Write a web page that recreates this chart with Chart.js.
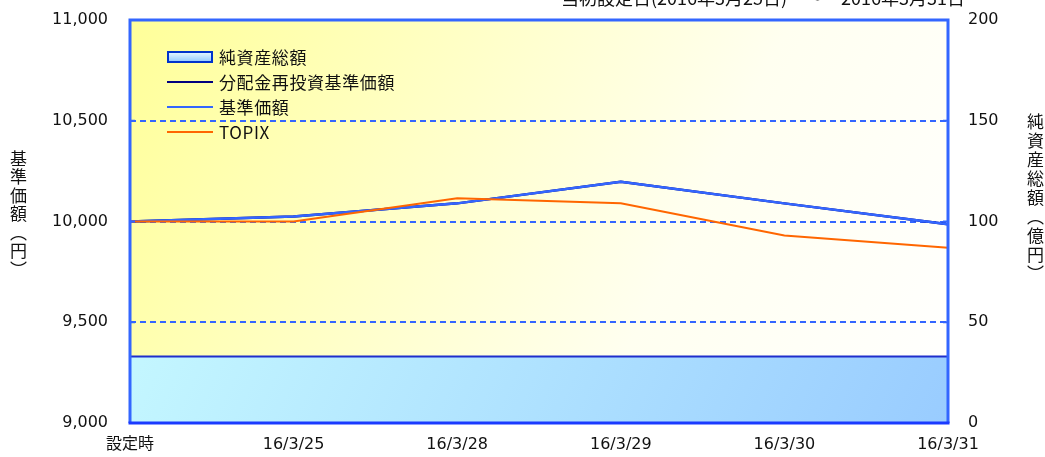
<!DOCTYPE html>
<html lang="ja">
<head>
<meta charset="utf-8">
<script src="https://cdn.jsdelivr.net/npm/chart.js@4"></script>
<style>
  body{ margin:0; background:#fff; font-family:"Noto Sans CJK JP","Noto Sans",sans-serif; color:#111; }
  #wrap{ position:relative; width:1045px; height:457px; overflow:hidden; }
  #ttl{ position:absolute; right:80px; top:-13px; font-size:18px; line-height:20px; white-space:nowrap; }
  .vt{ position:absolute; writing-mode:vertical-rl; font-size:17px; line-height:18px; }
  #legend{ position:absolute; left:167px; top:44px; font-size:17px; letter-spacing:0.6px; }
  #legend .it{ display:flex; align-items:center; height:25px; }
  #legend .sw{ width:46px; margin-right:6px; }
</style>
</head>
<body>
<div id="wrap">
  <canvas id="ch" width="1045" height="457"></canvas>
  <div id="ttl">当初設定日(2016年3月25日)　～　2016年3月31日</div>
  <div class="vt" style="left:9px;top:150px;letter-spacing:1.5px;">基準価額（円）</div>
  <div class="vt" style="left:1026px;top:113px;letter-spacing:2px;">純資産総額（億円）</div>
  <div id="legend"></div>
</div>
<script>
// ====== データ ======
const labels      = ['設定時','16/3/25','16/3/28','16/3/29','16/3/30','16/3/31'];
const reinvestNav = [10000, 10025, 10090, 10197, 10090, 9986];   // 分配金再投資基準価額
const navPrice    = [10000, 10025, 10090, 10197, 10090, 9986];   // 基準価額
const topix       = [10000, 10000, 10115, 10090,  9930, 9870];   // TOPIX
const netAssets   = [33, 33, 33, 33, 33, 33];                    // 純資産総額（億円）
const leftTicks   = [9000, 9500, 10000, 10500, 11000];
const rightTicks  = [0, 50, 100, 150, 200];

const BLUE='#3366ff', NAVY='#000080', ORANGE='#ff6600';

// 純資産の塗り（左上→右下のグラデーション）
function areaFill(c){
  const a=c.chart.chartArea;
  if(!a) return '#bfe8ff';
  const g=c.chart.ctx.createLinearGradient(a.left,a.top,a.right,a.bottom);
  g.addColorStop(0,'#ccffff'); g.addColorStop(1,'#99ccff');
  return g;
}

// 背景（グリッドより先に塗る）と枠線
function paintBg(chart){
  const {ctx,chartArea:a}=chart;
  if(!a) return;
  const g=ctx.createLinearGradient(a.left,a.top,a.right,a.bottom);
  g.addColorStop(0,'#ffff99'); g.addColorStop(0.65,'#fffff0'); g.addColorStop(1,'#ffffff');
  ctx.save(); ctx.fillStyle=g; ctx.fillRect(a.left,a.top,a.right-a.left,a.bottom-a.top); ctx.restore();
}
const frame={
  id:'frame',
  beforeDraw(chart){ paintBg(chart); },
  afterDraw(chart){
    const {ctx,chartArea:a,scales}=chart;
    ctx.save();
    ctx.lineWidth=3; ctx.strokeStyle=BLUE;
    ctx.beginPath(); ctx.moveTo(a.left,a.bottom); ctx.lineTo(a.left,a.top); ctx.lineTo(a.right,a.top); ctx.lineTo(a.right,a.bottom); ctx.stroke();
    // 内向きの目盛り
    ctx.lineWidth=2;
    ctx.beginPath();
    for(const v of leftTicks.slice(1,-1)){ const y=scales.y.getPixelForValue(v); ctx.moveTo(a.left,y); ctx.lineTo(a.left+5,y); }
    for(const v of rightTicks.slice(1,-1)){ const y=scales.y2.getPixelForValue(v); ctx.moveTo(a.right,y); ctx.lineTo(a.right-5,y); }
    ctx.stroke();
    ctx.lineWidth=3; ctx.strokeStyle='#1a3aff';
    ctx.beginPath(); ctx.moveTo(a.left-1.5,a.bottom); ctx.lineTo(a.right+1.5,a.bottom); ctx.stroke();
    ctx.restore();
  }
};

const datasets=[
  { label:'純資産総額', data:netAssets, yAxisID:'y2', fill:'origin', backgroundColor:areaFill,
    borderColor:'#1f2ecc', borderWidth:2, order:4, _sw:'box' },
  { label:'分配金再投資基準価額', data:reinvestNav, yAxisID:'y', borderColor:NAVY, borderWidth:2.5, order:3, _sw:'line' },
  { label:'基準価額', data:navPrice, yAxisID:'y', borderColor:BLUE, borderWidth:2.5, order:2, _sw:'line' },
  { label:'TOPIX', data:topix, yAxisID:'y', borderColor:ORANGE, borderWidth:2, order:1, _sw:'line' }
];

// 凡例（HTML）
const lg=document.getElementById('legend');
for(const d of datasets){
  const it=document.createElement('div'); it.className='it';
  const sw=document.createElement('div'); sw.className='sw';
  if(d._sw==='box'){
    sw.style.cssText+='height:8px;border:2px solid #0033cc;background:linear-gradient(#e0f4ff,#99ccff);width:42px;';
  }else{
    sw.style.cssText+='height:0;border-top:2px solid '+d.borderColor+';';
  }
  it.appendChild(sw);
  const t=document.createElement('span'); t.textContent=d.label; it.appendChild(t);
  lg.appendChild(it);
}

const tickFont={ family:'"DejaVu Sans","Noto Sans CJK JP",sans-serif', size:16 };
// 縦軸のラベル余白がプロット上端を押し下げないようにする
const fitV = w => s => { s.width=w; s.paddingTop=0; s.paddingBottom=0; };

new Chart(document.getElementById('ch'),{
  type:'line',
  data:{ labels, datasets },
  options:{
    responsive:false, animation:false,
    layout:{ padding:{ top:20, left:0, right:0, bottom:0 } },
    elements:{ point:{ radius:0 }, line:{ tension:0 } },
    plugins:{ legend:{ display:false }, tooltip:{ enabled:false } },
    scales:{
      x:{
        offset:false,
        grid:{ display:false, drawTicks:false },
        border:{ display:false },
        ticks:{ color:'#111', font:tickFont, padding:12, maxRotation:0, autoSkip:false },
        afterFit(s){ s.height=34; s.paddingLeft=0; s.paddingRight=0; }
      },
      y:{
        position:'left', min:9000, max:11000,
        afterBuildTicks(s){ s.ticks=leftTicks.map(v=>({value:v})); },
        ticks:{ color:'#111', font:tickFont, padding:22, callback:v=>v.toLocaleString('en-US') },
        grid:{ drawTicks:false, tickLength:0, lineWidth:2,
               color:c=>(c.tick && (c.tick.value===9000||c.tick.value===11000)) ? 'rgba(0,0,0,0)' : BLUE },
        border:{ display:false, dash:[6,4] },
        afterFit: fitV(130)
      },
      y2:{
        position:'right', min:0, max:200,
        afterBuildTicks(s){ s.ticks=rightTicks.map(v=>({value:v})); },
        ticks:{ color:'#111', font:tickFont, padding:20 },
        grid:{ display:false, drawTicks:false, tickLength:0 },
        border:{ display:false },
        afterFit: fitV(97)
      }
    }
  },
  plugins:[frame]
});
</script>
</body>
</html>
